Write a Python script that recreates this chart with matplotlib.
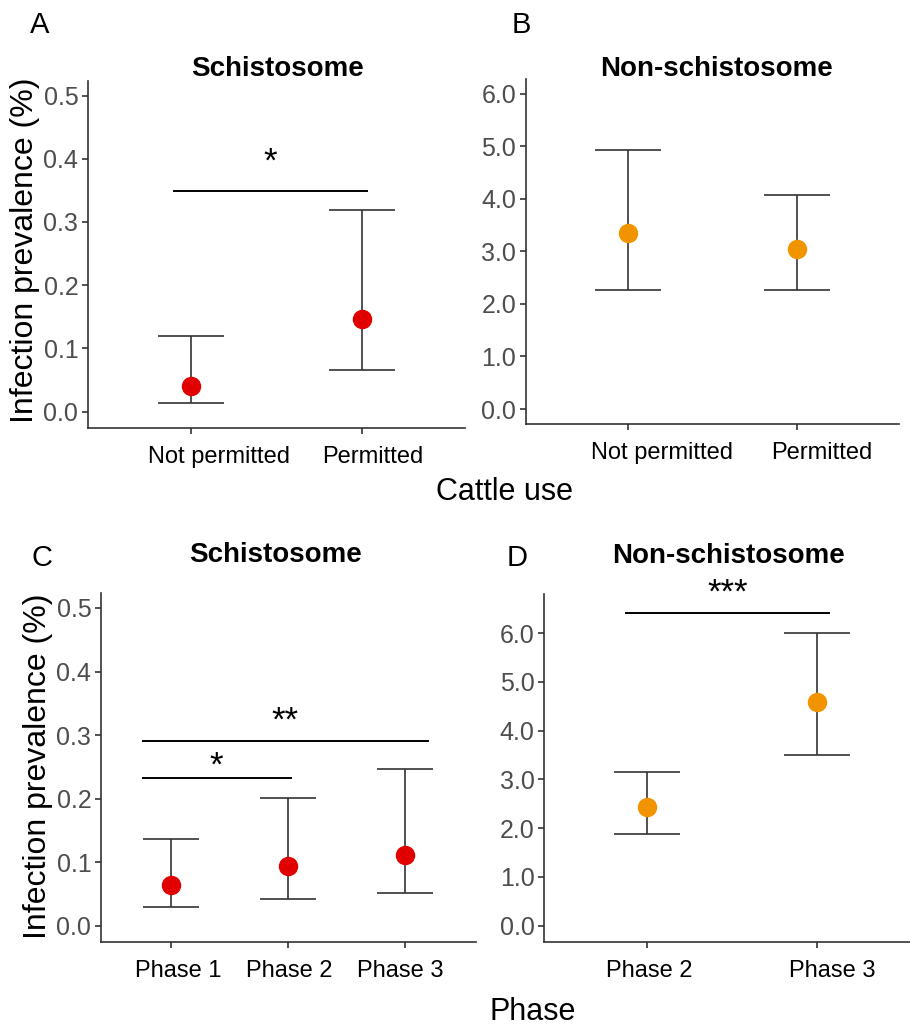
import matplotlib
matplotlib.use('Agg')
import matplotlib.pyplot as plt
from matplotlib.transforms import ScaledTranslation

plt.rcParams['font.family'] = ['Liberation Sans', 'DejaVu Sans']

# data (prevalence %, with lower / upper CI)
cattle_labels = ['Not permitted', 'Permitted']
schisto_cattle = [0.041, 0.146]
schisto_cattle_lo = [0.013, 0.066]
schisto_cattle_hi = [0.119, 0.319]
nonschisto_cattle = [3.35, 3.04]
nonschisto_cattle_lo = [2.27, 2.27]
nonschisto_cattle_hi = [4.92, 4.07]

phase_labels_c = ['Phase 1', 'Phase 2', 'Phase 3']
schisto_phase = [0.064, 0.094, 0.112]
schisto_phase_lo = [0.029, 0.043, 0.051]
schisto_phase_hi = [0.137, 0.201, 0.246]

phase_labels_d = ['Phase 2', 'Phase 3']
nonschisto_phase = [2.44, 4.59]
nonschisto_phase_lo = [1.88, 3.50]
nonschisto_phase_hi = [3.15, 6.01]

RED = '#E10000'
ORANGE = '#F29400'
DARK = '#333333'


def panel(ax, labels, vals, lo, hi, color, ylim, yticks, capsize, shifts):
  x = list(range(1, len(labels) + 1))
  err = [[v - l for v, l in zip(vals, lo)], [h - v for v, h in zip(vals, hi)]]
  ax.errorbar(x, vals, yerr=err, fmt='none', ecolor=DARK, elinewidth=1.2,
              capsize=capsize, capthick=1.2, zorder=2)
  ax.plot(x, vals, 'o', color=color, markersize=13, zorder=3)
  ax.set_xlim(0.4, len(labels) + 0.6)
  ax.set_ylim(ylim)
  ax.set_xticks(x)
  ax.set_xticklabels(labels, fontsize=17, color='black')
  ax.set_yticks(yticks)
  ax.set_yticklabels(['{:.1f}'.format(t) for t in yticks], fontsize=18, color='#4D4D4D')
  for s in ['top', 'right']:
    ax.spines[s].set_visible(False)
  for s in ['left', 'bottom']:
    ax.spines[s].set_color(DARK)
    ax.spines[s].set_linewidth(1.2)
  ax.tick_params(axis='x', length=4, width=1.2, color=DARK, pad=9)
  ax.tick_params(axis='y', length=4, width=1.2, color=DARK, pad=3)
  # labels in the original sit a little off their ticks
  for lab, dx in zip(ax.get_xticklabels(), shifts):
    lab.set_transform(lab.get_transform() + ScaledTranslation(dx / 100, 0, fig.dpi_scale_trans))


def bracket(ax, x0, x1, y, label, ty):
  ax.plot([x0, x1], [y, y], color='black', linewidth=1.4, clip_on=False)
  ax.text((x0 + x1) / 2, ty, label, ha='center', va='center', fontsize=25,
          clip_on=False)


fig = plt.figure(figsize=(9.1, 10.29), dpi=100)

ax_a = fig.add_axes([0.0967, 0.5841, 0.4139, 0.3372])
ax_b = fig.add_axes([0.578, 0.5877, 0.41, 0.3352])
ax_c = fig.add_axes([0.111, 0.0848, 0.4116, 0.3386])
ax_d = fig.add_axes([0.5981, 0.0848, 0.4125, 0.3377])

small_ticks = [0.0, 0.1, 0.2, 0.3, 0.4, 0.5]
big_ticks = [0.0, 1.0, 2.0, 3.0, 4.0, 5.0, 6.0]

panel(ax_a, cattle_labels, schisto_cattle, schisto_cattle_lo, schisto_cattle_hi,
      RED, (-0.026, 0.523), small_ticks, 24, [28, 11])
bracket(ax_a, 0.90, 2.03, 0.349, '*', 0.395)

panel(ax_b, cattle_labels, nonschisto_cattle, nonschisto_cattle_lo, nonschisto_cattle_hi,
      ORANGE, (-0.29, 6.27), big_ticks, 24, [34, 24])

panel(ax_c, phase_labels_c, schisto_phase, schisto_phase_lo, schisto_phase_hi,
      RED, (-0.025, 0.523), small_ticks, 20, [7, 1, -5])
bracket(ax_c, 0.755, 3.19, 0.291, '**', 0.322)
bracket(ax_c, 0.755, 2.02, 0.233, '*', 0.252)

panel(ax_d, phase_labels_d, nonschisto_phase, nonschisto_phase_lo, nonschisto_phase_hi,
      ORANGE, (-0.33, 6.80), big_ticks, 24, [3, 15])
bracket(ax_d, 0.879, 2.07, 6.41, '***', 6.83)

W, H = 910.0, 1029.0
def ftext(x, y, s, **kw):
  fig.text(x / W, 1 - y / H, s, ha='center', va='center', **kw)

ftext(40, 25, 'A', fontsize=21)
ftext(521, 25, 'B', fontsize=21)
ftext(42, 558, 'C', fontsize=21)
ftext(517, 558, 'D', fontsize=21)

ftext(278, 69, 'Schistosome', fontsize=20, fontweight='bold')
ftext(716, 69, 'Non-schistosome', fontsize=20, fontweight='bold')
ftext(276, 555, 'Schistosome', fontsize=20, fontweight='bold')
ftext(729, 556, 'Non-schistosome', fontsize=20, fontweight='bold')

ftext(25, 250, 'Infection prevalence (%)', fontsize=23, rotation=90)
ftext(38, 766, 'Infection prevalence (%)', fontsize=23, rotation=90)

ftext(505, 492, 'Cattle use', fontsize=22)
ftext(533, 1012, 'Phase', fontsize=22)

fig.savefig('out.png', dpi=100)
